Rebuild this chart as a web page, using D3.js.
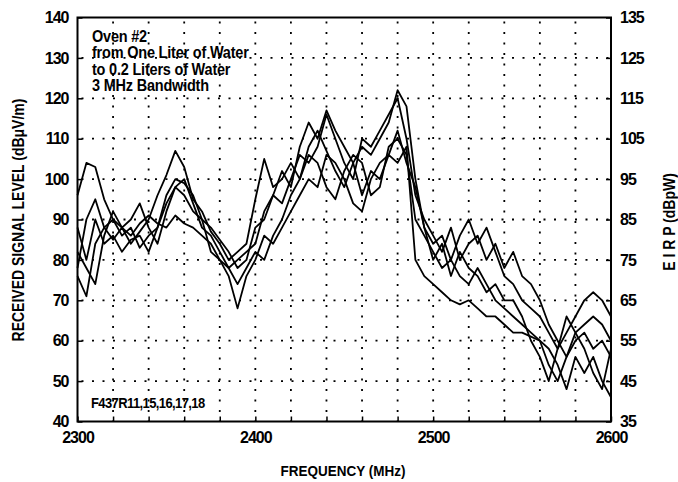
<!DOCTYPE html>
<html><head><meta charset="utf-8">
<script src="https://cdn.jsdelivr.net/npm/d3@7"></script>
<style>
body{margin:0;background:#fff;}
text{font-family:"Liberation Sans",Arial,sans-serif;fill:#000;}
</style></head><body>
<svg id="c" width="678" height="482"></svg>
<script>
const freqs = d3.range(2300, 2601, 5);
const series1 = [78,90,95,88,85,88,84,87,90,96,101,107,103,95,92,87,84,80,82,84,95,105,98,100,104,100,108,112,107,102,98,104,108,106,110,114,122,118,100,88,84,86,80,86,90,84,88,82,76,74,70,68,66,62,58,62,66,70,72,70,66];
const series2 = [96,104,103,95,90,86,88,83,86,88,96,100,99,96,90,88,85,82,78,80,88,90,96,94,100,106,104,108,116,110,104,100,110,108,112,116,120,110,96,90,86,82,88,80,84,86,80,84,78,82,76,74,70,64,60,56,62,64,66,64,60];
const series3 = [76,71,84,88,90,88,86,89,91,89,88,91,89,88,86,84,80,76,68,76,80,86,84,88,92,96,100,98,106,104,100,94,92,100,104,106,104,108,80,76,74,72,70,69,70,68,66,66,64,62,62,61,60,54,50,56,60,62,58,60,56];
const series4 = [82,78,74,86,92,88,90,94,88,84,92,98,100,94,88,86,82,78,80,82,84,92,96,102,98,108,114,110,117,112,108,104,96,102,100,106,112,104,98,88,80,84,76,82,78,76,72,74,70,70,66,60,56,50,58,66,62,58,52,48,58];
const series5 = [88,80,90,84,86,82,85,86,82,88,94,98,96,92,90,82,80,78,74,78,82,80,86,90,96,100,106,104,98,95,102,106,104,96,98,108,110,106,90,86,82,78,80,76,74,78,74,70,68,66,64,62,60,58,54,48,56,52,56,50,46];
const allSeries = [series1, series2, series3, series4, series5];
const xTicks = [2300, 2400, 2500, 2600];
const yTicksLeft = [40,50,60,70,80,90,100,110,120,130,140];
const yTicksRight = [35,45,55,65,75,85,95,105,115,125,135];
const noteLines = ["Oven #2", "from One Liter of Water", "to 0.2 Liters of Water", "3 MHz Bandwidth"];
const codeLabel = "F437R11,15,16,17,18";

const L = 77.5, R = 611, T = 17.5, B = 421.5;
const svg = d3.select("#c");
const x = d3.scaleLinear().domain([2300, 2600]).range([L, R]);
const y = d3.scaleLinear().domain([40, 140]).range([B, T]);
const y2 = d3.scaleLinear().domain([35, 135]).range([B, T]);

// grid
const grid = svg.append("g").attr("stroke", "#000").attr("stroke-width", 1.8).attr("stroke-dasharray", "2,8.5");
d3.range(2320, 2600, 20).forEach(f => grid.append("line").attr("x1", x(f)).attr("x2", x(f)).attr("y1", T + 4).attr("y2", B));
d3.range(50, 140, 10).forEach(v => grid.append("line").attr("x1", L + 4).attr("x2", R).attr("y1", y(v)).attr("y2", y(v)));

// data lines
const line = d3.line().x((d, i) => x(freqs[i])).y(d => y(d));
svg.append("g").selectAll("path").data(allSeries).join("path")
  .attr("d", line).attr("fill", "none").attr("stroke", "#000").attr("stroke-width", 1.8).attr("stroke-linejoin", "round");

// axes (inner ticks)
const ax = svg.append("g");
const bottom = ax.append("g").attr("transform", `translate(0,${B})`)
  .call(d3.axisBottom(x).tickValues(d3.range(2300, 2601, 20)).tickSize(-5).tickFormat(d => xTicks.includes(d) ? d : ""));
const left = ax.append("g").attr("transform", `translate(${L},0)`)
  .call(d3.axisLeft(y).tickValues(yTicksLeft).tickSize(-5));
const right = ax.append("g").attr("transform", `translate(${R},0)`)
  .call(d3.axisRight(y2).tickValues(yTicksRight).tickSize(-5));
[bottom, left, right].forEach(g => {
  g.select(".domain").remove();
  g.selectAll(".tick line").attr("stroke", "#000").attr("stroke-width", 1.5);
  g.selectAll(".tick text").attr("fill", "#000")
    .style("font-family", "'Liberation Sans',Arial,sans-serif")
    .style("font-size", "16px").style("font-weight", "bold").style("letter-spacing", "-1px");
});
bottom.selectAll(".tick text").attr("y", 10).attr("dy", "0.71em");
left.selectAll(".tick text").attr("x", -9);
right.selectAll(".tick text").attr("x", 9);

// frame
svg.append("rect").attr("x", L).attr("y", T).attr("width", R - L).attr("height", B - T)
  .attr("fill", "none").attr("stroke", "#000").attr("stroke-width", 2);

// annotations (slightly tall, condensed look)
const sy = 1.12;
const note = svg.append("text").attr("transform", `translate(92,42) scale(1,${sy})`)
  .style("font-size", "14.5px").style("font-weight", "bold").style("letter-spacing", "-0.2px");
noteLines.forEach((t, i) => note.append("tspan").attr("x", 0).attr("dy", i === 0 ? 0 : 16.3 / sy).text(t));
svg.append("text").attr("transform", `translate(91,408) scale(1,${sy})`)
  .style("font-size", "13px").style("font-weight", "bold").style("letter-spacing", "-0.6px").text(codeLabel);

// titles
svg.append("text").attr("transform", `translate(343,476) scale(1,${sy})`).attr("text-anchor", "middle")
  .style("font-size", "13.5px").style("font-weight", "bold").text("FREQUENCY (MHz)");
svg.append("text").attr("transform", `translate(24,220) rotate(-90) scale(1,${sy})`).attr("text-anchor", "middle")
  .style("font-size", "14px").style("font-weight", "bold").text("RECEIVED SIGNAL LEVEL (dBμV/m)");
svg.append("text").attr("transform", `translate(675,222) rotate(-90) scale(1,${sy})`).attr("text-anchor", "middle")
  .style("font-size", "14px").style("font-weight", "bold").text("E I R P (dBpW)");
</script>
</body></html>
